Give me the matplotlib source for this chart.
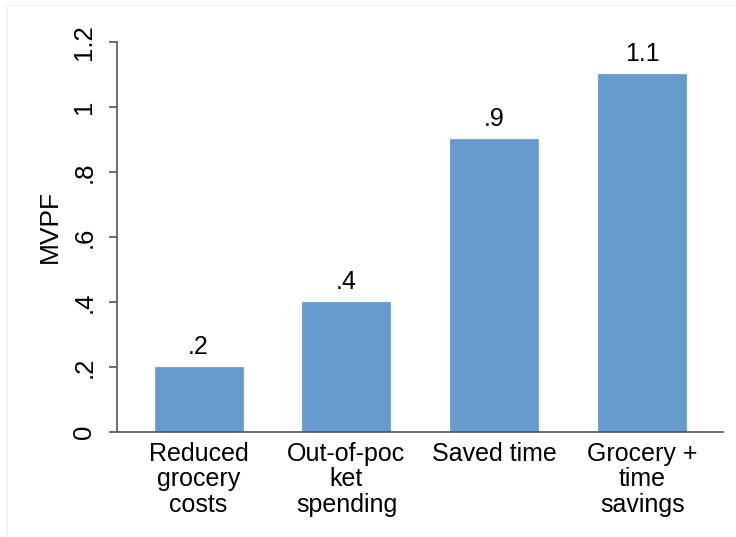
import matplotlib
matplotlib.use('Agg')
import matplotlib.pyplot as plt
import numpy as np

plt.rcParams['font.family'] = ['Liberation Sans', 'DejaVu Sans']

categories = ['Reduced\ngrocery\ncosts', 'Out-of-poc\nket\nspending', 'Saved time', 'Grocery +\ntime\nsavings']
mvpf = [0.2, 0.4, 0.9, 1.1]
value_labels = ['.2', '.4', '.9', '1.1']
yticks = [0, 0.2, 0.4, 0.6, 0.8, 1.0, 1.2]
ytick_labels = ['0', '.2', '.4', '.6', '.8', '1', '1.2']

fig = plt.figure(figsize=(7.36, 5.37), dpi=100)

# faint outer region border (Stata style), only top/left edges show
fig.add_artist(plt.Line2D([7 / 736, 1.0], [1 - 5 / 537, 1 - 5 / 537], transform=fig.transFigure,
                          color='#eeeeee', linewidth=0.8))
fig.add_artist(plt.Line2D([7 / 736, 7 / 736], [0.0, 1 - 5 / 537], transform=fig.transFigure,
                          color='#eeeeee', linewidth=0.8))

ax = fig.add_axes([0.159, 0.1955, 0.823, 0.7265])

x = np.arange(len(categories))
ax.bar(x, mvpf, width=0.595, color='#6699cc', edgecolor='#7aa7d4', linewidth=0.8, zorder=2)

for xi, v, lab in zip(x, mvpf, value_labels):
    ax.annotate(lab, (xi, v), xytext=(0, 6), textcoords='offset points',
                ha='center', va='bottom', fontsize=18)

ax.set_xlim(-0.551, 3.544)
ax.set_ylim(0, 1.2)
ax.set_yticks(yticks)
ax.set_yticklabels(ytick_labels, rotation=90, va='center', fontsize=18.5)
ax.set_xticks(x)
ax.set_xticklabels(categories, fontsize=18, linespacing=1.08, va='top')
ax.tick_params(axis='x', length=0, pad=7)
ax.tick_params(axis='y', length=6, width=1.2, color='#555555', pad=9)
ax.set_ylabel('MVPF', fontsize=19)
ax.yaxis.set_label_coords(-0.091, 0.526)

for s in ['top', 'right']:
    ax.spines[s].set_visible(False)
for s in ['left', 'bottom']:
    ax.spines[s].set_color('#555555')
    ax.spines[s].set_linewidth(1.2)

fig.savefig('out.png', dpi=100)
